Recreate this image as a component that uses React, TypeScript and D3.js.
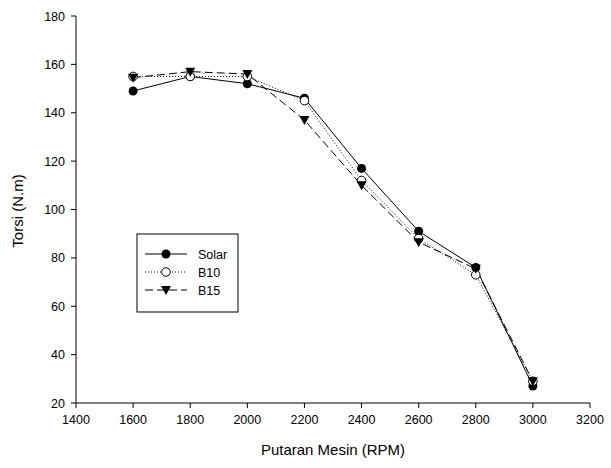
import React from "react";
import { scaleLinear, line, range } from "d3";

const rpm = [1600, 1800, 2000, 2200, 2400, 2600, 2800, 3000];
const solar = [149, 155, 152, 146, 117, 91, 76, 27];
const b10 = [155, 155, 155, 145, 112, 88, 73, 29];
const b15 = [154.5, 157, 156, 137, 110, 86.5, 75.5, 29];
const xTicks = range(1400, 3201, 200);
const yTicks = range(20, 181, 20);

const font = "Liberation Sans, Arial, sans-serif";

function Marker({ kind, x, y }: { kind: string; x: number; y: number }) {
  if (kind === "circle") return <circle cx={x} cy={y} r={4.5} fill="black" />;
  if (kind === "open") return <circle cx={x} cy={y} r={4.3} fill="white" stroke="black" strokeWidth={1} />;
  return <path d={`M${x - 5},${y - 4} L${x + 5},${y - 4} L${x},${y + 5} Z`} fill="black" />;
}

export default function App() {
  const x = scaleLinear().domain([1400, 3200]).range([76, 590]);
  const y = scaleLinear().domain([20, 180]).range([403, 16]);

  const series = [
    { name: "Solar", values: solar, dash: "none", marker: "circle" },
    { name: "B10", values: b10, dash: "1,2", marker: "open" },
    { name: "B15", values: b15, dash: "8,4", marker: "tri" },
  ];

  const gen = line<number>()
    .x((_, i) => x(rpm[i]))
    .y((d) => y(d));

  return (
    <svg width={611} height={468} style={{ position: "absolute", left: 0, top: 0 }}>
      <rect width={611} height={468} fill="white" />
      {/* axes */}
      <line x1={76} x2={590} y1={403} y2={403} stroke="black" />
      <line x1={76} x2={76} y1={16} y2={403} stroke="black" />
      {xTicks.map((t) => (
        <g key={t}>
          <line x1={x(t)} x2={x(t)} y1={403} y2={408} stroke="black" />
          <text x={x(t)} y={424} textAnchor="middle" fontFamily={font} fontSize={12.5}>
            {t}
          </text>
        </g>
      ))}
      {yTicks.map((t) => (
        <g key={t}>
          <line x1={71} x2={76} y1={y(t)} y2={y(t)} stroke="black" />
          <text x={65} y={y(t) + 4.5} textAnchor="end" fontFamily={font} fontSize={12.5}>
            {t}
          </text>
        </g>
      ))}
      <text x={333} y={455} textAnchor="middle" fontFamily={font} fontSize={15}>
        Putaran Mesin (RPM)
      </text>
      <text
        transform="translate(23,211) rotate(-90)"
        textAnchor="middle"
        fontFamily={font}
        fontSize={15}
      >
        Torsi (N.m)
      </text>
      {/* lines */}
      {series.map((s) => (
        <path
          key={s.name}
          d={gen(s.values) || ""}
          fill="none"
          stroke="black"
          strokeWidth={1}
          strokeDasharray={s.dash}
        />
      ))}
      {series.map((s) => (
        <g key={s.name + "m"}>
          {s.values.map((v, i) => (
            <Marker key={i} kind={s.marker} x={x(rpm[i])} y={y(v)} />
          ))}
        </g>
      ))}
      {/* legend */}
      <rect x={137} y={234} width={101} height={78} fill="white" stroke="black" />
      {series.map((s, i) => {
        const ly = 254 + i * 18;
        return (
          <g key={s.name + "l"}>
            <line x1={145} x2={187} y1={ly} y2={ly} stroke="black" strokeDasharray={s.dash} />
            <Marker kind={s.marker} x={166} y={ly} />
            <text x={198} y={ly + 4.5} fontFamily={font} fontSize={12.5}>
              {s.name}
            </text>
          </g>
        );
      })}
    </svg>
  );
}
